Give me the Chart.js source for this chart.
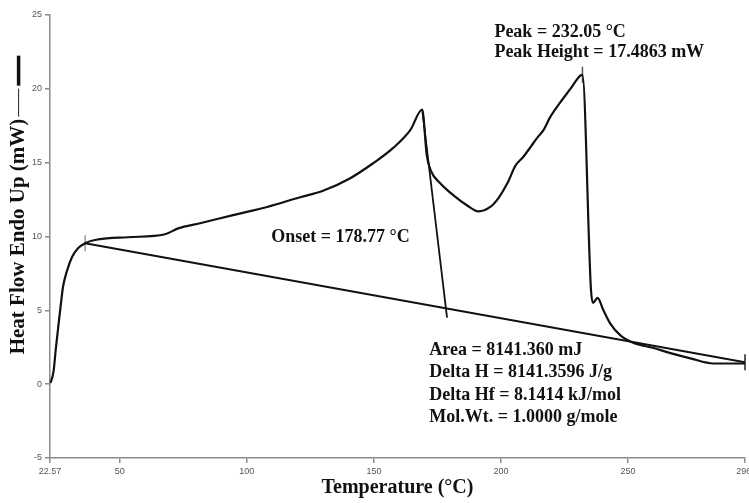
<!DOCTYPE html>
<html>
<head>
<meta charset="utf-8">
<script src="https://cdn.jsdelivr.net/npm/chart.js@4.4.0/dist/chart.umd.min.js"></script>
<style>
  html, body { margin: 0; padding: 0; background: #fff; }
  #wrap { width: 749px; height: 503px; }
</style>
</head>
<body>
<div id="wrap"><canvas id="dscChart" width="749" height="503"></canvas></div>
<script>
// DSC scan, values (°C, mW)
const temperature = [22.57, 22.9, 24.0, 24.8, 25.7, 26.9, 27.7, 29.3, 31.2, 33.6, 36.4, 41.5, 53.3, 67.8, 73.0,
    81.6, 94.6, 108.0, 121.0, 130.0, 140.7, 149.7, 157.6, 164.3, 169.0, 170.8, 172.3, 176.1, 181.2,
    186.7, 191.1, 195.8, 199.0, 202.5, 205.7, 208.8, 211.6, 214.3, 216.7, 219.4, 223.4, 227.3, 231.2,
    232.05, 235.4, 236.2, 238.0, 240.3, 243.0, 247.0, 252.0, 260.0, 266.7, 274.5, 283.6, 296.0];
const heatFlow = [0.1, 0.15, 0.9, 2.3, 3.7, 5.5, 6.6, 7.7, 8.6, 9.2, 9.55, 9.8, 9.95, 10.15, 10.55,
    10.9, 11.45, 12.0, 12.66, 13.1, 13.95, 14.96, 16.0, 17.2, 18.6, 15.5, 14.5, 13.6, 12.8,
    12.1, 11.7, 12.0, 12.6, 13.6, 14.8, 15.4, 16.05, 16.7, 17.2, 18.1, 19.1, 20.0, 20.9,
    20.95, 6.4, 5.5, 5.85, 5.0, 4.1, 3.3, 2.8, 2.45, 2.1, 1.75, 1.4, 1.4];

// integration baseline and onset tangent
const baselineT = [36.4, 296.0];
const baselineV = [9.55, 1.49];
const tangentT = [169.0, 178.77];
const tangentV = [18.6, 4.5];

// short vertical markers: onset start, peak, baseline end
const markerT = [36.4, 232.05, 296.0];
const markerV = [9.55, 20.95, 1.49];

const xTicks = [22.57, 50, 100, 150, 200, 250, 296];
const xTickLabels = ['22.57', '50', '100', '150', '200', '250', '296.'];

// result texts, anchored at (°C, mW)
const noteText = ['Peak = 232.05 °C', 'Peak Height = 17.4863 mW', 'Onset = 178.77 °C',
    'Area = 8141.360 mJ', 'Delta H = 8141.3596 J/g', 'Delta Hf = 8.1414 kJ/mol', 'Mol.Wt. = 1.0000 g/mole'];
const noteT = [197.4, 197.4, 109.6, 171.8, 171.8, 171.8, 171.8];
const noteV = [23.5, 22.15, 9.6, 1.96, 0.47, -1.08, -2.57];

const serif = "'Liberation Serif', 'Times New Roman', serif";
const tickFont = { family: "'Liberation Sans Narrow', 'Arial Narrow', 'Liberation Sans', sans-serif", size: 9 };
const axisGray = '#8a8a8a';
const yTitleSize = 21;

function toPoints(xs, ys) {
    return xs.map((x, i) => ({ x: x, y: ys[i] }));
}

// texts inside the plot plus the little line sample after the y title
const notesPlugin = {
    id: 'notes',
    afterDraw(chart) {
        const ctx = chart.ctx;
        const xs = chart.scales.x;
        const ys = chart.scales.y;
        ctx.save();
        ctx.fillStyle = '#111';
        ctx.font = 'bold 18px ' + serif;
        ctx.textAlign = 'left';
        ctx.textBaseline = 'alphabetic';
        noteText.forEach((t, i) => {
            ctx.fillText(t, xs.getPixelForValue(noteT[i]), ys.getPixelForValue(noteV[i]));
        });

        // line sample next to the y title
        ctx.font = 'bold ' + yTitleSize + 'px ' + serif;
        const w = ctx.measureText(ys.options.title.text).width;
        const mid = (chart.chartArea.top + chart.chartArea.bottom) / 2;
        const end = mid - w / 2;
        const cx = ys.left + 6 + yTitleSize * 1.2 / 2;
        ctx.strokeStyle = '#222';
        ctx.lineWidth = 1;
        ctx.beginPath();
        ctx.moveTo(cx, end - 2);
        ctx.lineTo(cx, end - 30);
        ctx.stroke();
        ctx.lineWidth = 3.5;
        ctx.strokeStyle = '#111';
        ctx.beginPath();
        ctx.moveTo(cx, end - 33);
        ctx.lineTo(cx, end - 63);
        ctx.stroke();
        ctx.restore();
    }
};

new Chart(document.getElementById('dscChart'), {
    type: 'scatter',
    data: {
        datasets: [
            {
                data: toPoints(baselineT, baselineV),
                showLine: true,
                borderColor: '#111',
                borderWidth: 2,
                pointRadius: 0
            },
            {
                data: toPoints(tangentT, tangentV),
                showLine: true,
                borderColor: '#111',
                borderWidth: 1.8,
                pointRadius: 0,
                clip: false
            },
            {
                data: toPoints(temperature, heatFlow),
                showLine: true,
                borderColor: '#111',
                borderWidth: 2.2,
                pointRadius: 0,
                cubicInterpolationMode: 'monotone'
            },
            {
                data: toPoints(markerT, markerV),
                showLine: false,
                pointStyle: 'line',
                rotation: 90,
                pointRadius: 8,
                borderWidth: 1.5,
                borderColor: ['#999', '#555', '#222'],
                clip: false
            }
        ]
    },
    options: {
        responsive: false,
        animation: false,
        devicePixelRatio: 1,
        layout: { autoPadding: false, padding: { top: 15, right: 4, left: 0, bottom: 0 } },
        plugins: {
            legend: { display: false },
            tooltip: { enabled: false }
        },
        scales: {
            x: {
                type: 'linear',
                min: 22.57,
                max: 296,
                afterBuildTicks: scale => {
                    scale.ticks = xTicks.map(v => ({ value: v }));
                },
                afterFit: scale => {
                    scale.height = 45;
                    scale.paddingLeft = 0;
                    scale.paddingRight = 0;
                },
                ticks: {
                    autoSkip: false,
                    maxRotation: 0,
                    padding: 3,
                    color: '#555',
                    font: tickFont,
                    callback: (value, index) => xTickLabels[index]
                },
                grid: { drawOnChartArea: false, tickLength: 5, color: axisGray, lineWidth: 1.5 },
                border: { color: axisGray, width: 1.5 },
                title: {
                    display: true,
                    text: 'Temperature (°C)',
                    color: '#111',
                    font: { family: serif, size: 20, weight: 'bold' },
                    padding: { top: 0, bottom: 3 }
                }
            },
            y: {
                min: -5,
                max: 25,
                afterFit: scale => {
                    scale.width = 50;
                },
                ticks: {
                    stepSize: 5,
                    padding: 3,
                    color: '#555',
                    font: tickFont
                },
                grid: { drawOnChartArea: false, tickLength: 5, color: axisGray, lineWidth: 1.5 },
                border: { color: axisGray, width: 1.5 },
                title: {
                    display: true,
                    text: 'Heat Flow Endo Up (mW)',
                    color: '#111',
                    font: { family: serif, size: yTitleSize, weight: 'bold' },
                    padding: { top: 6, bottom: 4 }
                }
            }
        }
    },
    plugins: [notesPlugin]
});
</script>
</body>
</html>
